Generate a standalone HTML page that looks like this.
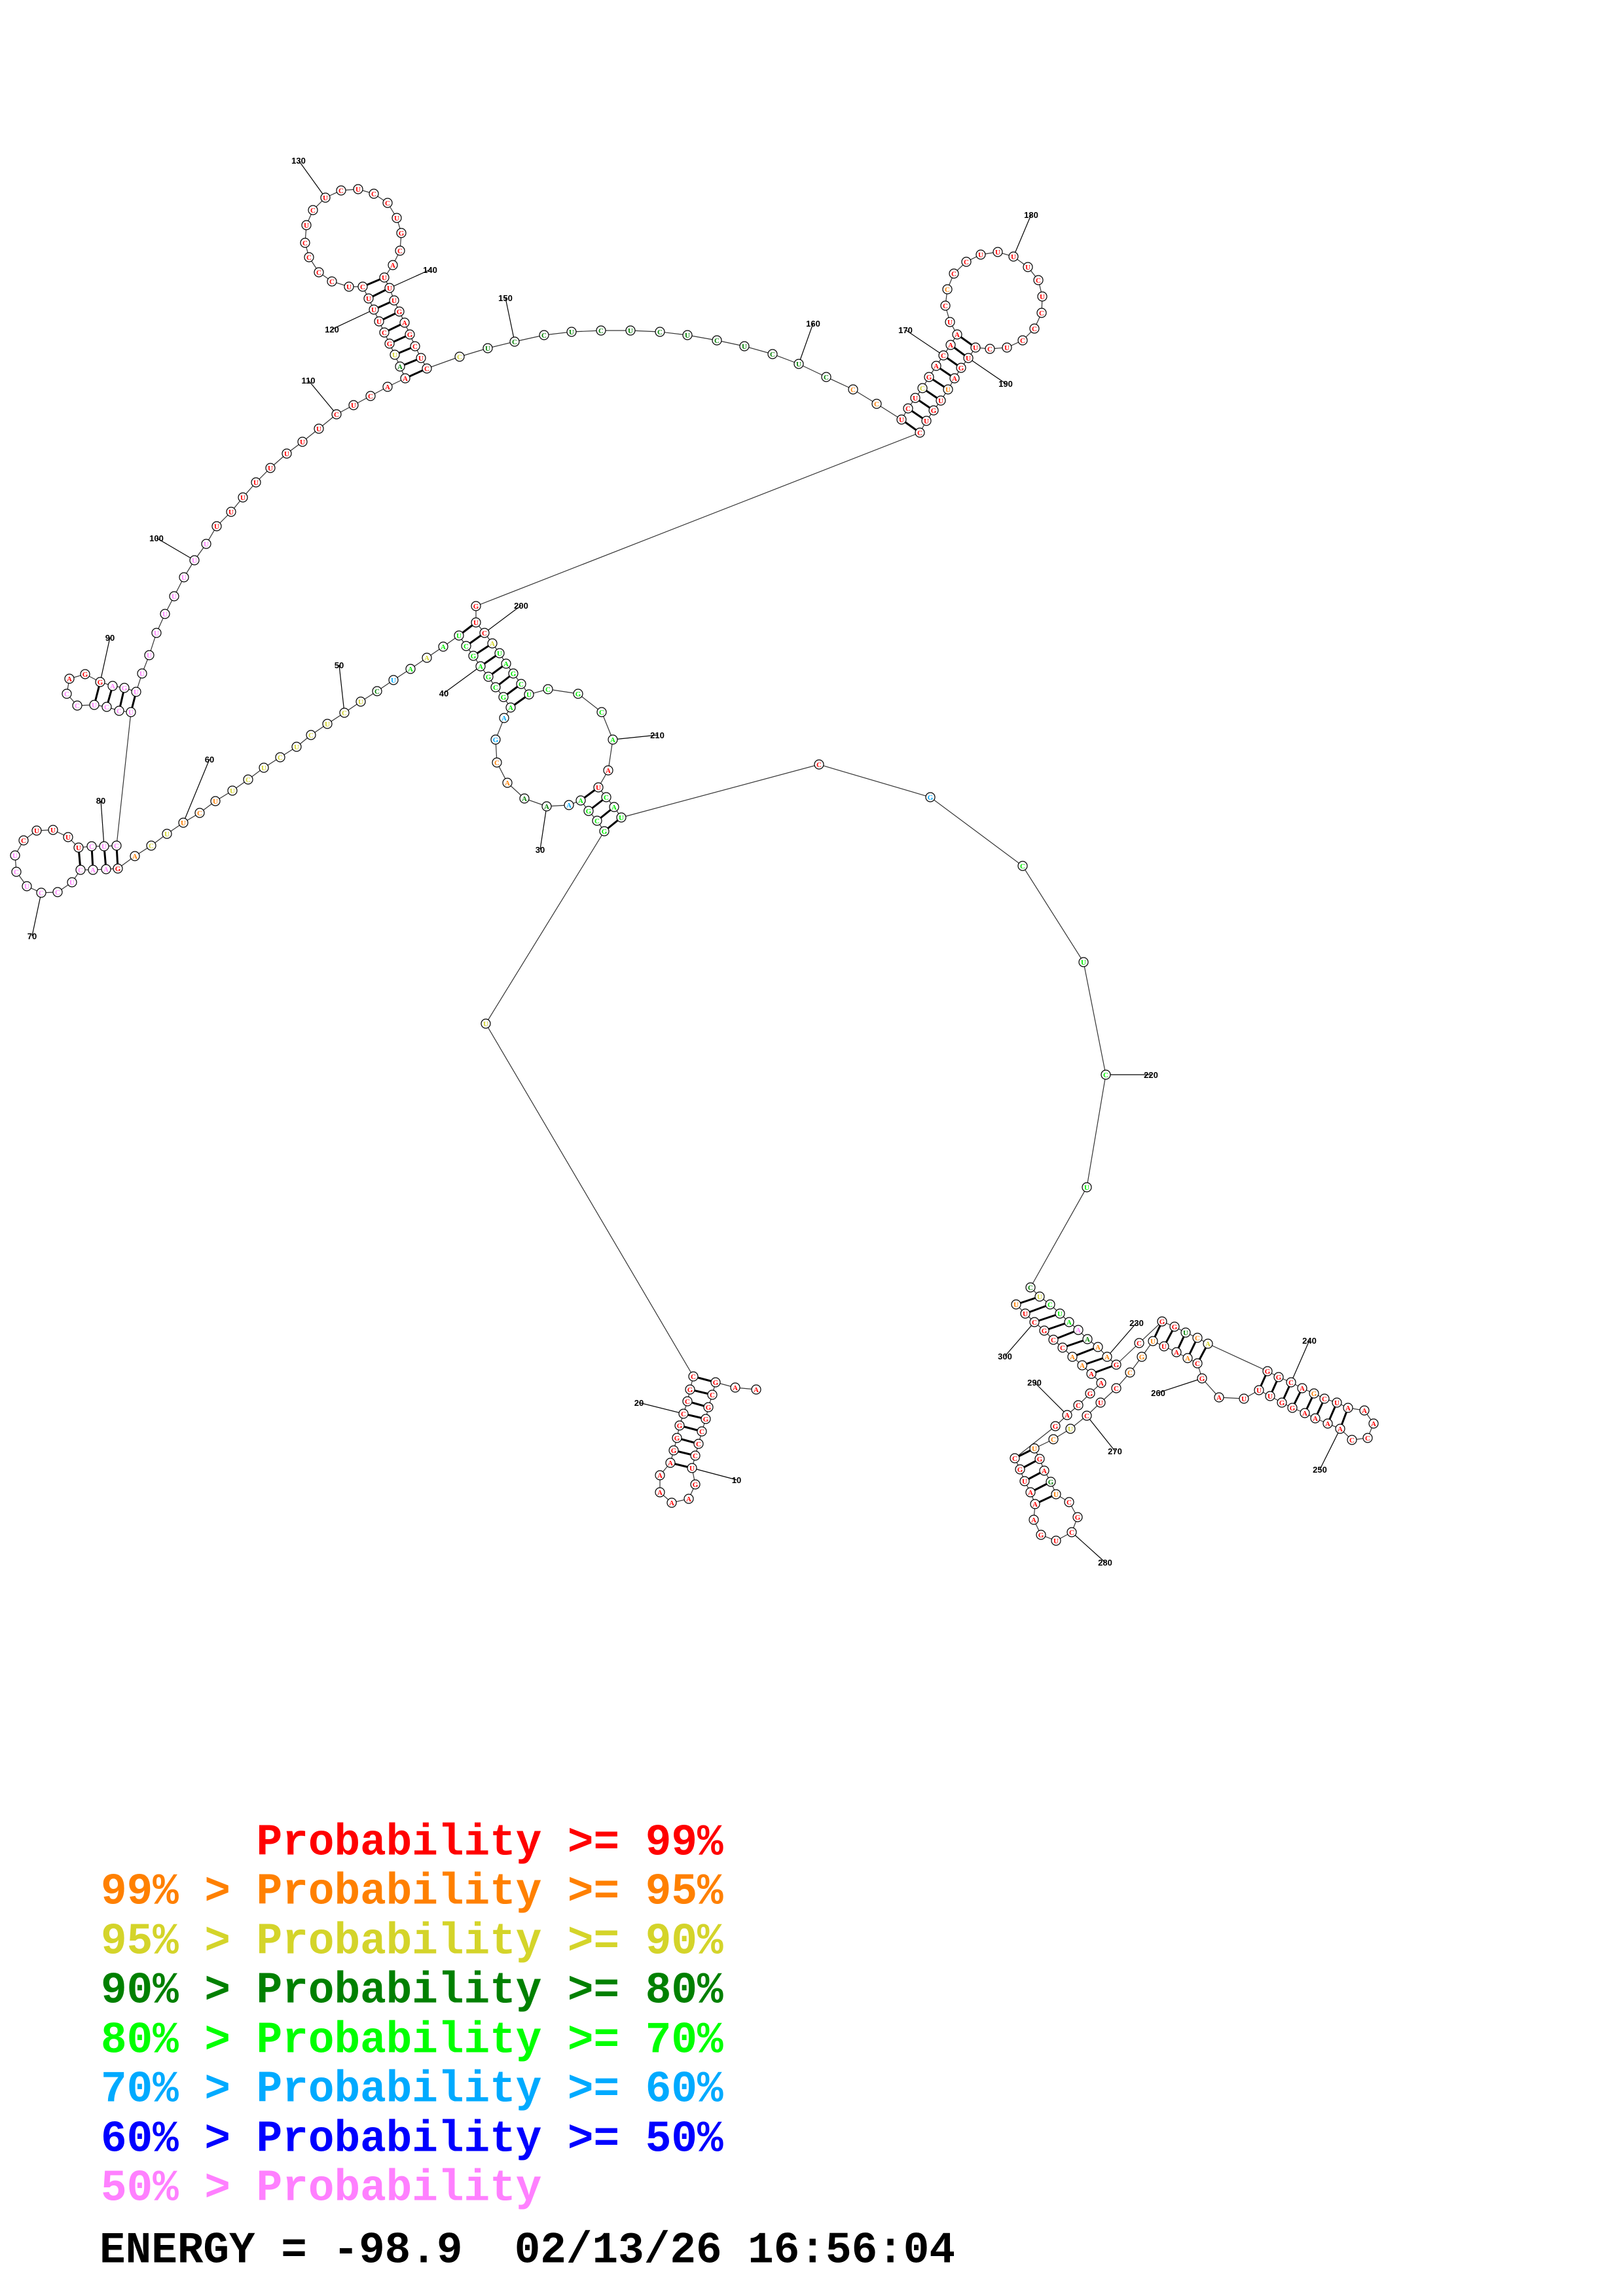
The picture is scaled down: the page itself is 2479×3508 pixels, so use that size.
<!DOCTYPE html>
<html><head><meta charset="utf-8"><style>
html,body{margin:0;padding:0;background:#fff;}
#wrap{position:relative;width:2479px;height:3508px;overflow:hidden;background:#fff;}
svg{position:absolute;left:0;top:0;}
.leg{position:absolute;left:154px;font-family:"Liberation Mono",monospace;font-weight:bold;font-size:66px;white-space:pre;line-height:1;transform:scaleY(1.03);transform-origin:0 0;}
</style></head><body><div id="wrap">
<svg id="s" width="2479" height="3508" viewBox="0 0 2479 3508" xmlns="http://www.w3.org/2000/svg"></svg>
<div class="leg" style="top:2782px;color:#ff0000">      Probability &gt;= 99%</div>
<div class="leg" style="top:2857px;color:#ff8000">99% &gt; Probability &gt;= 95%</div>
<div class="leg" style="top:2933px;color:#d4d42a">95% &gt; Probability &gt;= 90%</div>
<div class="leg" style="top:3008px;color:#008000">90% &gt; Probability &gt;= 80%</div>
<div class="leg" style="top:3084px;color:#00ff00">80% &gt; Probability &gt;= 70%</div>
<div class="leg" style="top:3159px;color:#00aaff">70% &gt; Probability &gt;= 60%</div>
<div class="leg" style="top:3235px;color:#0000ff">60% &gt; Probability &gt;= 50%</div>
<div class="leg" style="top:3310px;color:#ff80ff">50% &gt; Probability</div>
<div class="leg" style="top:3405px;left:152px;color:#000">ENERGY = -98.9  02/13/26 16:56:04</div>
</div>
<script>
var P=[[1155,2123],[1123,2120],[1093,2112],[1088,2131],[1082,2150],[1078,2168],[1072,2187],[1067,2206],[1062,2224],[1057,2243],
[1062,2268],[1052,2290],[1026,2296],[1008,2280],[1008,2254],[1024,2235],[1029,2216],[1034,2197],[1038,2178],[1044,2160],
[1050,2141],[1054,2123],[1059,2103],[742,1564],[923,1270],[912,1254],[899,1239],[887,1223],[869,1230],[835,1232],
[801,1220],[775,1196],[759,1165],[757,1130],[770,1097],[780,1081],[769,1065],[757,1050],[746,1034],[734,1018],
[723,1002],[712,987],[701,971],[677,988],[652,1005],[627,1022],[601,1039],[576,1056],[551,1072],[526,1089],
[500,1106],[475,1123],[453,1141],[428,1157],[403,1173],[379,1191],[355,1208],[329,1224],[305,1242],[280,1257],
[255,1274],[231,1292],[206,1308],[180,1327],[162,1328],[142,1329],[123,1329],[110,1348],[88,1363],[63,1364],
[41,1354],[25,1332],[23,1307],[36,1284],[56,1269],[81,1268],[104,1279],[120,1295],[140,1293],[159,1293],
[178,1292],[200,1088],[182,1086],[163,1080],[144,1077],[118,1078],[102,1060],[106,1037],[130,1030],[153,1042],
[172,1048],[190,1051],[208,1057],[217,1029],[228,1001],[239,967],[252,938],[266,911],[281,882],[297,856],
[315,831],[331,804],[353,782],[371,760],[391,737],[413,715],[438,693],[462,675],[487,655],[514,633],
[540,619],[566,605],[592,591],[619,578],[611,560],[603,542],[595,525],[587,508],[579,491],[571,473],
[563,456],[554,438],[533,438],[507,430],[487,416],[472,393],[466,371],[468,344],[478,321],[497,302],
[521,291],[547,289],[571,296],[592,310],[606,333],[613,356],[611,383],[600,405],[587,424],[595,440],
[602,459],[610,476],[618,493],[626,511],[634,529],[643,547],[652,563],[702,545],[745,532],[786,522],
[831,512],[873,507],[918,505],[963,505],[1008,507],[1050,512],[1095,520],[1137,529],[1180,541],[1220,556],
[1262,576],[1303,595],[1339,617],[1377,641],[1387,624],[1398,608],[1409,593],[1419,576],[1430,559],[1441,543],
[1452,527],[1462,511],[1451,492],[1444,467],[1447,442],[1457,418],[1476,400],[1498,389],[1524,385],[1548,392],
[1570,408],[1586,428],[1592,453],[1591,478],[1580,502],[1562,520],[1538,531],[1512,533],[1490,531],[1479,547],
[1468,562],[1458,578],[1448,595],[1437,612],[1426,627],[1415,643],[1405,661],[727,926],[727,951],[740,967],
[752,983],[763,998],[773,1014],[784,1029],[796,1045],[808,1061],[837,1053],[883,1060],[919,1088],[936,1130],
[929,1177],[914,1203],[926,1218],[938,1233],[949,1249],[1251,1168],[1421,1218],[1562,1323],[1655,1470],[1689,1642],
[1660,1814],[1574,1967],[1588,1981],[1604,1993],[1619,2007],[1633,2020],[1647,2032],[1661,2046],[1677,2058],[1691,2073],
[1705,2085],[1740,2052],[1775,2019],[1794,2027],[1811,2036],[1829,2044],[1845,2053],[1936,2095],[1953,2104],[1972,2112],
[1989,2121],[2007,2129],[2023,2137],[2042,2143],[2059,2151],[2084,2155],[2098,2175],[2089,2197],[2065,2200],[2047,2183],
[2028,2175],[2009,2167],[1993,2159],[1974,2151],[1958,2143],[1940,2133],[1923,2124],[1900,2137],[1862,2135],[1836,2106],
[1829,2083],[1814,2075],[1797,2066],[1778,2057],[1761,2049],[1744,2073],[1726,2097],[1705,2121],[1681,2143],[1660,2163],
[1635,2183],[1609,2199],[1580,2213],[1588,2229],[1595,2247],[1605,2264],[1613,2283],[1633,2295],[1646,2318],[1637,2341],
[1613,2354],[1590,2345],[1579,2322],[1581,2298],[1574,2280],[1565,2263],[1558,2245],[1550,2228],[1612,2179],[1630,2162],
[1647,2147],[1665,2129],[1682,2113],[1667,2099],[1653,2086],[1638,2073],[1623,2059],[1609,2047],[1595,2033],[1580,2020],
[1566,2007],[1552,1993]];
var SEQ="AAGCGGCCCUGAAAAAGGGCCGCUGCGAAAAACGAAGCGAGCUAAAUCUCUCUCUCUUCUUCAGAACUCCUCUCUUUUCUCUCCUCCAGGAGUUUUUUUUUUUUUUUUUCUCAAAUGCUUUCUCCCCUCUCUCCUGCAUUUGAGCUCCUCCUCUCUCUCUCCCUCUCGACAAUCCCCUUUUCUCCCUCUUGAUUGUCGUCAUAGCUCGCAAUCAUCGCUCUCUCUAAAAAGCGGUCAGGCAGCUAAACCAAAAGGUUUAGCAAUUGCCUCUCUGAGUCGCUGAAAUGCGACGAAAACCGCUUUUUU";
var COL="rrrrrrrrrrrrrrrrrrrrrrryllllbddoobblllllllllylbdyyyyyyyyyoooyyorppppppppprrrrrppppppppprrrppppppppppprrrrrrrrrrrrrdyrrrrrrrrrrrrrrrrrrrrrrrrrrrrrrrydddddddddddddoorrryrrrrrrrorrrrrrrrrrrrrrrrrorrrrrrrylllllllllrrlllrblllldylllpdoorrrrgoyrrrrorrrrrrrrrrrrrrrrrrrorrooorrryoorrdorrrrrrrrrrrrrrrrroorrrrroodp";
var CM={r:"#ff0000",o:"#ff8000",y:"#d4d42a",d:"#008000",l:"#00ee00",b:"#00aaff",B:"#0000ff",p:"#ff80ff",g:"#008000"};
var pairs=[];
function st(a,b,n){for(var k=0;k<n;k++)pairs.push([a+k,b-k]);}
st(3,23,8);st(25,215,4);st(36,206,8);st(64,81,4);st(82,93,4);st(114,147,9);st(164,197,9);
st(223,302,9);st(233,265,5);st(238,257,8);st(273,288,5);
var labels=[[10,1125,2261],[20,976,2143],[30,825,1298],[40,678,1059],[50,518,1016],[60,320,1160],[70,49,1430],[80,154,1223],[90,168,974],[100,239,822],[110,471,581],[120,507,503],[130,456,245],[140,657,412],[150,772,455],[160,1242,494],[170,1383,504],[180,1575,328],[190,1536,586],[200,796,925],[210,1004,1123],[220,1758,1642],[230,1736,2021],[240,2000,2048],[250,2016,2245],[260,1769,2128],[270,1703,2217],[280,1688,2387],[290,1580,2112],[300,1535,2072]];
var s='';
var pts=P.map(function(p){return p[0]+','+p[1];}).join(' ');
s+='<polyline points="'+pts+'" fill="none" stroke="#333" stroke-width="1.2"/>';
pairs.forEach(function(q){var a=P[q[0]-1],b=P[q[1]-1];if(!a||!b)return;
 s+='<line x1="'+a[0]+'" y1="'+a[1]+'" x2="'+b[0]+'" y2="'+b[1]+'" stroke="#000" stroke-width="3"/>';});
labels.forEach(function(L){var p=P[L[0]-1];
 s+='<line x1="'+p[0]+'" y1="'+p[1]+'" x2="'+L[1]+'" y2="'+L[2]+'" stroke="#000" stroke-width="1.2"/>';
 s+='<text x="'+L[1]+'" y="'+(L[2]+5)+'" font-family="Liberation Sans,sans-serif" font-weight="bold" font-size="13" text-anchor="middle">'+L[0]+'</text>';});
P.forEach(function(p,i){var c=CM[COL.charAt(i)]||"#ff0000";var ch=SEQ.charAt(i)||"U";
 s+='<circle cx="'+p[0]+'" cy="'+p[1]+'" r="7" fill="#fff" stroke="#000" stroke-width="1.2"/>';
 s+='<text x="'+p[0]+'" y="'+(p[1]+4)+'" font-family="Liberation Serif,serif" font-weight="bold" font-size="11" fill="'+c+'" text-anchor="middle">'+ch+'</text>';});
document.getElementById('s').innerHTML=s;
</script>
</body></html>
